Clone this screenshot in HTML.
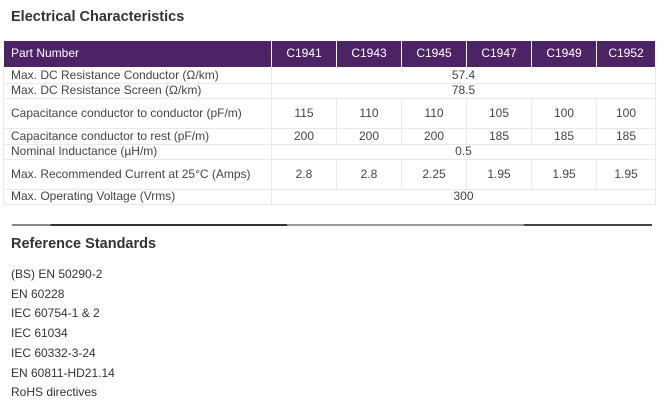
<!DOCTYPE html>
<html><head><meta charset="utf-8"><style>
*{margin:0;padding:0;box-sizing:border-box}
body{width:663px;height:404px;background:#fff;font-family:"Liberation Sans",sans-serif;color:#333;position:relative;overflow:hidden}
h2{position:absolute;font-size:14.5px;font-weight:bold;color:#333;left:11px}
table{position:absolute;left:3px;top:40px;border-collapse:collapse;table-layout:fixed;width:652px;font-size:12px}
td,th{border:1px solid #eaeaea;padding:0 0 0 7px;line-height:13.5px;color:#444;font-weight:normal}
th{background:#4c2466;color:#fff;border-color:#fff;height:27px;text-align:left}
th.c{text-align:center;padding:0}
td.v{text-align:center;padding:0}
.li{position:absolute;left:11px;font-size:12px;color:#333}
.rule{position:absolute;left:12px;top:224px;width:640px;height:2px;background:linear-gradient(90deg,#888 0,#888 6%,#333 6%,#333 43%,#999 43%,#999 80%,#444 80%,#444 100%)}
</style></head><body>
<h2 style="top:9px">Electrical Characteristics</h2>
<table>
<colgroup><col style="width:268px"><col style="width:65px"><col style="width:65px"><col style="width:65px"><col style="width:65px"><col style="width:65px"><col style="width:59px"></colgroup>
<tr><th>Part Number</th><th class="c">C1941</th><th class="c">C1943</th><th class="c">C1945</th><th class="c">C1947</th><th class="c">C1949</th><th class="c">C1952</th></tr>
<tr style="height:16px"><td>Max. DC Resistance Conductor (Ω/km)</td><td class="v" colspan="6">57.4</td></tr>
<tr style="height:15px"><td>Max. DC Resistance Screen (Ω/km)</td><td class="v" colspan="6">78.5</td></tr>
<tr style="height:30px"><td>Capacitance conductor to conductor (pF/m)</td><td class="v">115</td><td class="v">110</td><td class="v">110</td><td class="v">105</td><td class="v">100</td><td class="v">100</td></tr>
<tr style="height:16px"><td>Capacitance conductor to rest (pF/m)</td><td class="v">200</td><td class="v">200</td><td class="v">200</td><td class="v">185</td><td class="v">185</td><td class="v">185</td></tr>
<tr style="height:15px"><td>Nominal Inductance (µH/m)</td><td class="v" colspan="6">0.5</td></tr>
<tr style="height:30px"><td>Max. Recommended Current at 25°C (Amps)</td><td class="v">2.8</td><td class="v">2.8</td><td class="v">2.25</td><td class="v">1.95</td><td class="v">1.95</td><td class="v">1.95</td></tr>
<tr style="height:15px"><td>Max. Operating Voltage (Vrms)</td><td class="v" colspan="6">300</td></tr>
</table>
<div class="rule"></div>
<h2 style="top:236px">Reference Standards</h2>
<div class="li" style="top:267px">(BS) EN 50290-2</div>
<div class="li" style="top:287px">EN 60228</div>
<div class="li" style="top:306px">IEC 60754-1 &amp; 2</div>
<div class="li" style="top:326px">IEC 61034</div>
<div class="li" style="top:346px">IEC 60332-3-24</div>
<div class="li" style="top:366px">EN 60811-HD21.14</div>
<div class="li" style="top:385px">RoHS directives</div>
</body></html>
